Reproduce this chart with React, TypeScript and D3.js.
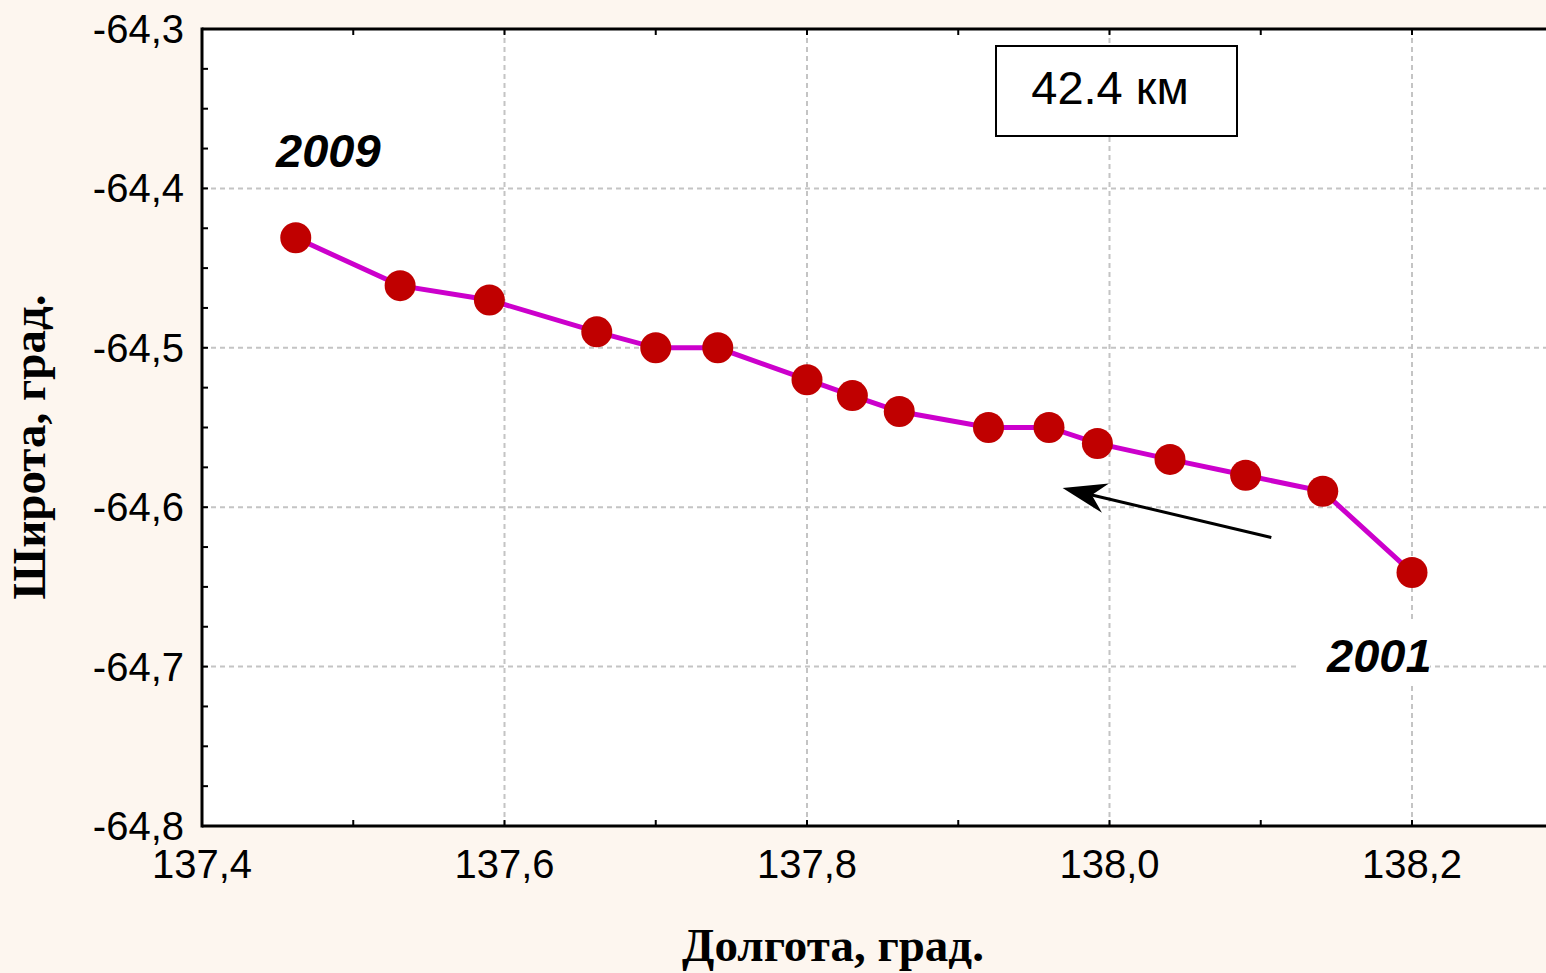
import React from "react";
import * as d3 from "d3";

const longitudes = [137.462, 137.531, 137.59, 137.661, 137.70, 137.741, 137.80, 137.83, 137.861, 137.92, 137.96, 137.992, 138.04, 138.09, 138.141, 138.20];
const latitudes = [-64.431, -64.461, -64.47, -64.49, -64.50, -64.50, -64.52, -64.53, -64.54, -64.55, -64.55, -64.56, -64.57, -64.58, -64.59, -64.641];
const xTicks = [137.4, 137.6, 137.8, 138.0, 138.2];
const xMinorTicks = [137.5, 137.7, 137.9, 138.1, 138.3];
const yTicks = [-64.3, -64.4, -64.5, -64.6, -64.7, -64.8];
const yMinorTicks = d3.range(0, 21).map((i) => -64.3 - i * 0.025);
const distanceLabel = "42.4 км";
const startLabel = "2009";
const endLabel = "2001";
const xTitle = "Долгота, град.";
const yTitle = "Широта, град.";

const W = 1546;
const H = 973;

export default function App() {
  const x = d3.scaleLinear().domain([137.4, 138.2]).range([202, 1412]);
  const y = d3.scaleLinear().domain([-64.8, -64.3]).range([826, 29]);
  const fmt = (v: number) => d3.format(".1f")(v).replace(".", ",").replace("\u2212", "-");
  const pts = longitudes.map((lo, i) => [lo, latitudes[i]] as [number, number]);
  const line = d3.line<[number, number]>().x((d) => x(d[0])).y((d) => y(d[1]));
  const left = x(137.4);
  const top = y(-64.3);
  const bottom = y(-64.8);
  const grid = "#c4c4c4";
  const sans = "Arial, 'Liberation Sans', sans-serif";
  const serif = "'Liberation Serif', 'Times New Roman', serif";

  // arrow (in data coords)
  const a0: [number, number] = [138.107, -64.619];
  const a1: [number, number] = [137.969, -64.588];
  const ax0 = x(a0[0]), ay0 = y(a0[1]), ax1 = x(a1[0]), ay1 = y(a1[1]);
  const ang = Math.atan2(ay0 - ay1, ax0 - ax1);
  const hl = 44, hw = 15, notch = 30;
  const px = (l: number, w: number) => [ax1 + l * Math.cos(ang) - w * Math.sin(ang), ay1 + l * Math.sin(ang) + w * Math.cos(ang)];
  const h1 = px(hl, hw), h2 = px(notch, 0), h3 = px(hl, -hw);

  return (
    <svg width={W} height={H} style={{ position: "absolute", left: 0, top: 0, display: "block" }}>
      <rect x={0} y={0} width={W} height={H} fill="#fdf6ef" />
      <rect x={left} y={top} width={W - left} height={bottom - top} fill="#ffffff" />
      {xTicks.slice(1).map((t) => (
        <line key={"gx" + t} x1={x(t)} x2={x(t)} y1={top} y2={bottom} stroke={grid} strokeWidth={2} strokeDasharray="5,4" />
      ))}
      {yTicks.slice(1, -1).map((t) => (
        <line key={"gy" + t} x1={left} x2={W} y1={y(t)} y2={y(t)} stroke={grid} strokeWidth={2} strokeDasharray="5,4" />
      ))}
      {/* axes */}
      <line x1={left} x2={W} y1={top} y2={top} stroke="#000" strokeWidth={3} />
      <line x1={left} x2={W} y1={bottom} y2={bottom} stroke="#000" strokeWidth={3} />
      <line x1={left} x2={left} y1={top - 1.5} y2={bottom + 1.5} stroke="#000" strokeWidth={3} />
      {xTicks.concat(xMinorTicks).map((t) => (
        <g key={"xt" + t}>
          <line x1={x(t)} x2={x(t)} y1={bottom} y2={bottom - 6} stroke="#000" strokeWidth={2} />
          <line x1={x(t)} x2={x(t)} y1={top} y2={top + 6} stroke="#000" strokeWidth={2} />
        </g>
      ))}
      {yMinorTicks.map((t) => (
        <line key={"yt" + t} x1={left} x2={left + 6} y1={y(t)} y2={y(t)} stroke="#000" strokeWidth={2} />
      ))}
      {xTicks.map((t) => (
        <text key={"xl" + t} x={x(t)} y={878} textAnchor="middle" fontFamily={sans} fontSize={40} fill="#000">
          {fmt(t)}
        </text>
      ))}
      {yTicks.map((t) => (
        <text key={"yl" + t} x={184} y={y(t) + 14} textAnchor="end" fontFamily={sans} fontSize={40} fill="#000">
          {fmt(t)}
        </text>
      ))}
      {/* series */}
      <path d={line(pts) || ""} fill="none" stroke="#cc00cc" strokeWidth={5} />
      {pts.map((p, i) => (
        <circle key={"p" + i} cx={x(p[0])} cy={y(p[1])} r={15.5} fill="#c00000" />
      ))}
      {/* arrow */}
      <line x1={ax0} y1={ay0} x2={h2[0]} y2={h2[1]} stroke="#000" strokeWidth={3} />
      <path d={`M${ax1},${ay1}L${h1[0]},${h1[1]}L${h2[0]},${h2[1]}L${h3[0]},${h3[1]}Z`} fill="#000" />
      {/* distance box */}
      <rect x={996} y={46} width={241} height={90} fill="#fff" stroke="#000" strokeWidth={2} />
      <text x={1110} y={104} textAnchor="middle" fontFamily={sans} fontSize={47} fill="#000">
        {distanceLabel}
      </text>
      {/* year labels */}
      <text x={276} y={167} fontFamily={sans} fontSize={47} fontWeight="bold" fontStyle="italic" fill="#000">
        {startLabel}
      </text>
      <rect x={1300} y={622} width={130} height={62} fill="#fff" />
      <text x={1327} y={672} fontFamily={sans} fontSize={47} fontWeight="bold" fontStyle="italic" fill="#000">
        {endLabel}
      </text>
      {/* axis titles */}
      <text x={833} y={961} textAnchor="middle" fontFamily={serif} fontSize={47} fontWeight="bold" fill="#000">
        {xTitle}
      </text>
      <text transform={`translate(45,447) rotate(-90)`} textAnchor="middle" fontFamily={serif} fontSize={47} fontWeight="bold" fill="#000">
        {yTitle}
      </text>
    </svg>
  );
}
